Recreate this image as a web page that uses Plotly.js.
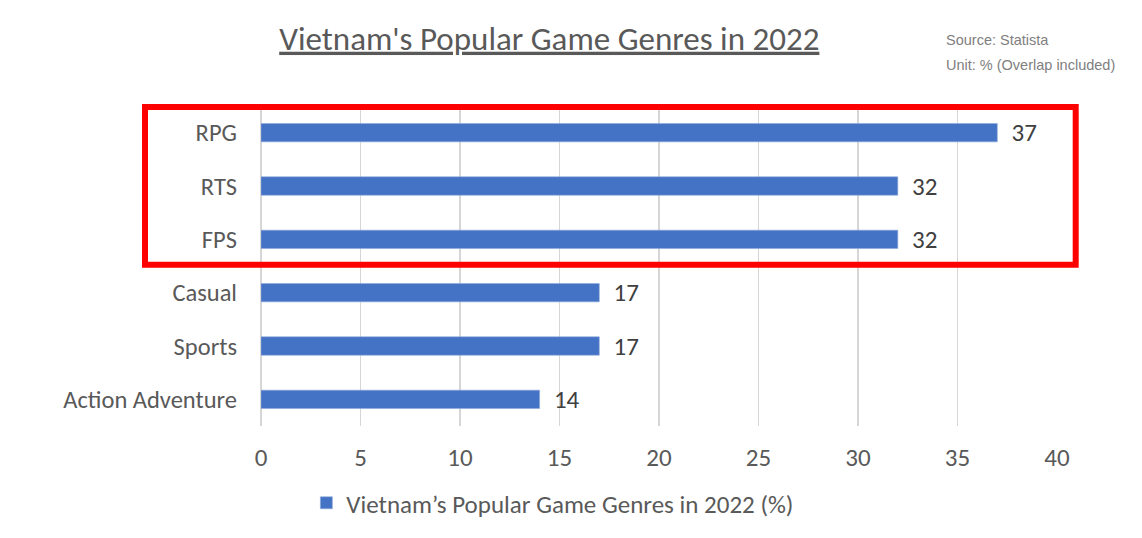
<!DOCTYPE html>
<html>
<head>
<meta charset="utf-8">
<script src="https://cdn.plot.ly/plotly-3.0.1.min.js"></script>
<style>html,body{margin:0;padding:0;background:#fff;}#chart{width:1142px;height:538px;}</style>
</head>
<body>
<div id="chart"></div>
<script>
const genres = ["RPG", "RTS", "FPS", "Casual", "Sports", "Action Adventure"];
const shares = [37, 32, 32, 17, 17, 14];
const xTicks = [0, 5, 10, 15, 20, 25, 30, 35, 40];
const seriesName = "Vietnam\u2019s Popular Game Genres in 2022 (%)";
const chartTitle = "Vietnam's Popular Game Genres in 2022";
const sourceNote = "Source: Statista";
const unitNote = "Unit: % (Overlap included)";

const FONT = "Carlito, Calibri, 'Open Sans', sans-serif";
const NOTE_FONT = "'Liberation Sans', Arial, sans-serif";

const trace = {
  type: "bar",
  orientation: "h",
  y: genres,
  x: shares,
  name: seriesName,
  marker: {color: "#4472C4", line: {color: "#8EA9DB", width: 0.6}},
  width: 0.345,
  texttemplate: "\u00a0\u00a0%{x}",
  textposition: "outside",
  constraintext: "none",
  cliponaxis: false,
  textfont: {family: FONT, size: 25, color: "#404040"},
  hoverinfo: "x+y",
  showlegend: true
};

// plot area in pixels: x 261..1057, y 106..426
const PX_L = 261, PX_W = 796, PX_T = 106, PX_H = 320;
const py = function (pix) { return (PX_T + PX_H - pix) / PX_H; };
const px = function (pix) { return (pix - PX_L) / PX_W; };

const layout = {
  width: 1142,
  height: 538,
  paper_bgcolor: "#ffffff",
  plot_bgcolor: "#ffffff",
  margin: {l: 261, r: 85, t: 106, b: 112},
  font: {family: FONT, color: "#595959"},
  title: {
    text: "<u>" + chartTitle + "</u>",
    font: {family: FONT, size: 33, color: "#595959"},
    x: 0.481, xanchor: "center", xref: "container",
    y: 0.929, yanchor: "middle", yref: "container"
  },
  xaxis: {
    range: [0, 40],
    tickvals: xTicks,
    ticktext: xTicks.map(String),
    showgrid: true,
    gridcolor: "#D6D6D6",
    gridwidth: 1.3,
    zeroline: true,
    zerolinecolor: "#D6D6D6",
    zerolinewidth: 1.3,
    showline: false,
    ticks: "",
    ticklabelstandoff: 14,
    tickfont: {family: FONT, size: 25, color: "#595959"},
    fixedrange: true
  },
  yaxis: {
    type: "category",
    autorange: "reversed",
    showgrid: false,
    zeroline: false,
    showline: false,
    ticks: "",
    ticklabelstandoff: 23,
    tickfont: {family: FONT, size: 24.5, color: "#595959"},
    fixedrange: true
  },
  bargap: 0.655,
  showlegend: true,
  legend: {
    orientation: "h",
    x: 0.057, xanchor: "left",
    y: 0.065, yanchor: "middle", yref: "container",
    font: {family: FONT, size: 25, color: "#595959"},
    bgcolor: "rgba(0,0,0,0)"
  },
  annotations: [
    {text: sourceNote, xref: "paper", yref: "paper", x: px(944), y: py(39.5),
     xanchor: "left", yanchor: "middle", showarrow: false,
     font: {family: NOTE_FONT, size: 14.5, color: "#808080"}},
    {text: unitNote, xref: "paper", yref: "paper", x: px(944), y: py(64.5),
     xanchor: "left", yanchor: "middle", showarrow: false,
     font: {family: NOTE_FONT, size: 14.5, color: "#808080"}}
  ],
  shapes: [
    {type: "rect", xref: "paper", yref: "paper",
     x0: px(145), x1: px(1075.7), y0: py(264.7), y1: py(107),
     line: {color: "#FF0000", width: 6}, fillcolor: "rgba(0,0,0,0)", layer: "above"}
  ]
};

Plotly.newPlot("chart", [trace], layout, {displayModeBar: false, staticPlot: true});
</script>
</body>
</html>
